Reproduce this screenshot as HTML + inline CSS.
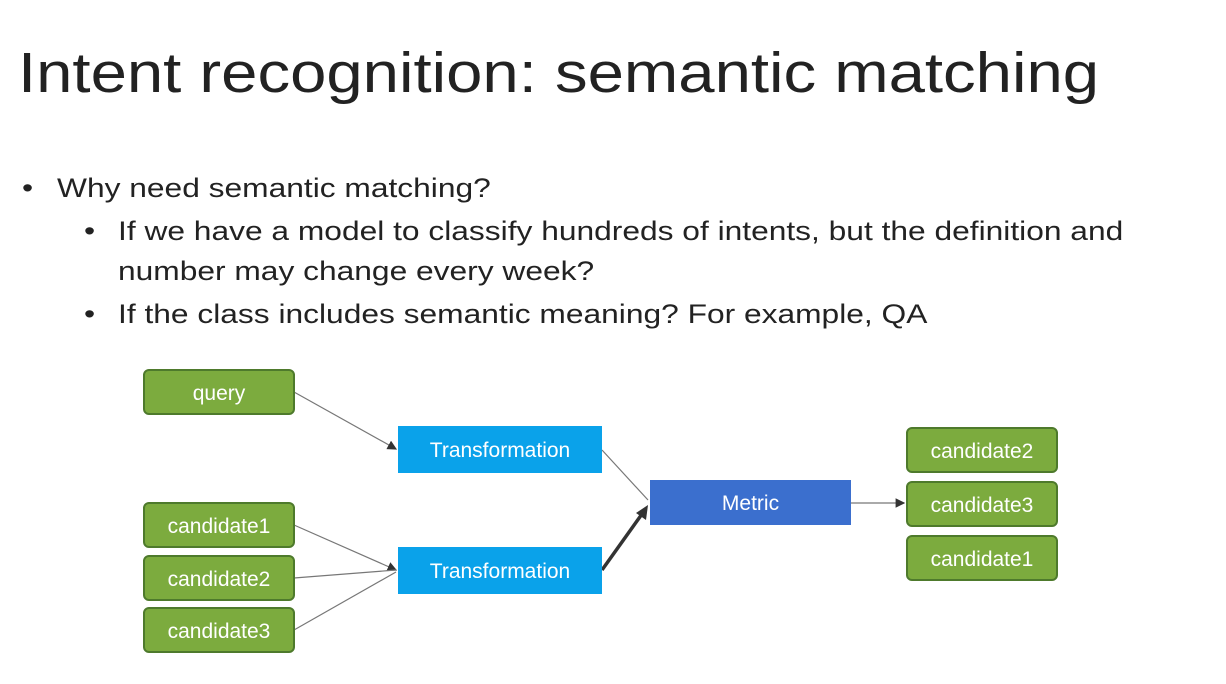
<!DOCTYPE html>
<html><head><meta charset="utf-8"><style>
body{margin:0;width:1226px;height:684px;background:#fff;font-family:"Liberation Sans",sans-serif;position:relative;overflow:hidden}
.t{position:absolute;left:18px;top:40px;font-size:57px;color:#222;white-space:nowrap;transform:scaleX(1.145);transform-origin:0 0}
.b{position:absolute;font-size:27px;color:#222;white-space:nowrap;transform:scaleX(1.175);transform-origin:0 0}
.g,.bl{position:absolute;display:flex;align-items:center;justify-content:center;color:#fff;font-size:21px;box-sizing:border-box;padding-top:3px}
.g{background:#7cab3e;border:2px solid #4e7a2c;border-radius:6px;width:152px;height:46px}
.bl{background:#0aa2ea;width:204px;height:47px;font-size:21px}
</style></head><body>
<div class="t">Intent recognition: semantic matching</div>
<div class="b" style="left:22px;top:173px">•</div>
<div class="b" style="left:57px;top:173px">Why need semantic matching?</div>
<div class="b" style="left:84px;top:216px">•</div>
<div class="b" style="left:118px;top:216px">If we have a model to classify hundreds of intents, but the definition and</div>
<div class="b" style="left:118px;top:256px">number may change every week?</div>
<div class="b" style="left:84px;top:299px">•</div>
<div class="b" style="left:118px;top:299px">If the class includes semantic meaning? For example, QA</div>
<svg style="position:absolute;left:0;top:0" width="1226" height="684">
<defs><marker id="a" markerWidth="8" markerHeight="8" refX="7" refY="4" orient="auto"><path d="M0,0L8,4L0,8z" fill="#333"/></marker></defs>
<g stroke="#777" stroke-width="1.2" fill="none">
<line x1="294" y1="392" x2="396" y2="449" marker-end="url(#a)"/>
<line x1="294" y1="525" x2="396" y2="570" marker-end="url(#a)"/>
<line x1="294" y1="578" x2="396" y2="570"/>
<line x1="294" y1="630" x2="396" y2="572"/>
<line x1="602" y1="450" x2="648" y2="500"/>
<line x1="851" y1="503" x2="904" y2="503" marker-end="url(#a)"/>
</g>
<line x1="602" y1="570" x2="642" y2="514" stroke="#333" stroke-width="3.5"/>
<path d="M648,505 L646,520 L636,513 z" fill="#333"/>
</svg>
<div class="g" style="left:143px;top:369px">query</div>
<div class="g" style="left:143px;top:502px">candidate1</div>
<div class="g" style="left:143px;top:555px">candidate2</div>
<div class="g" style="left:143px;top:607px">candidate3</div>
<div class="bl" style="left:398px;top:426px">Transformation</div>
<div class="bl" style="left:398px;top:547px">Transformation</div>
<div class="bl" style="left:650px;top:480px;width:201px;height:45px;background:#3b6fce">Metric</div>
<div class="g" style="left:906px;top:427px">candidate2</div>
<div class="g" style="left:906px;top:481px">candidate3</div>
<div class="g" style="left:906px;top:535px">candidate1</div>
</body></html>
